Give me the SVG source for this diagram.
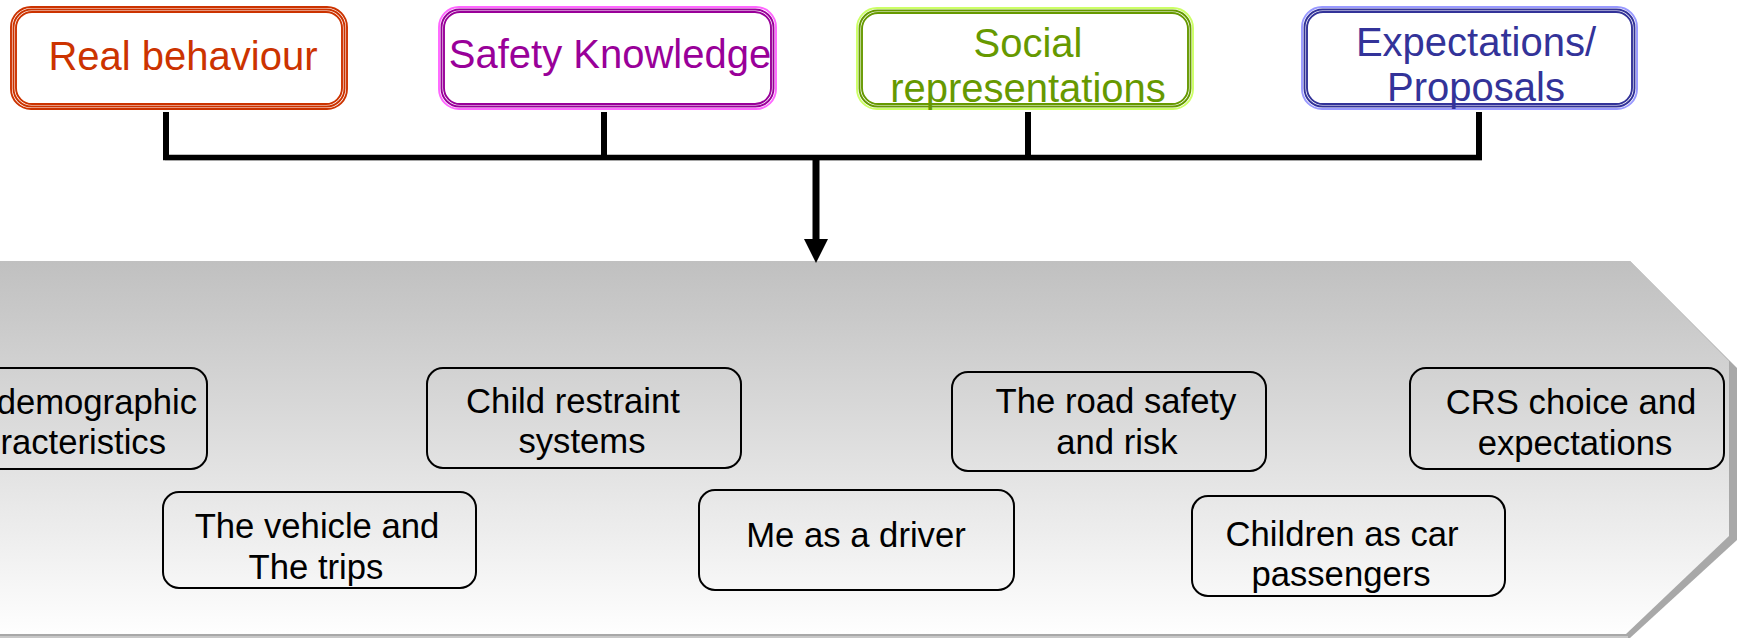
<svg xmlns="http://www.w3.org/2000/svg" width="1741" height="640" viewBox="0 0 1741 640">
<style>
  text { font-family: "Liberation Sans", Arial, sans-serif; }
  .top { font-size: 40px; text-anchor: middle; }
  .inner { font-size: 34.67px; fill: #000; text-anchor: middle; }
  .ibox { fill: none; stroke: #000; stroke-width: 2; }
  .b { fill: none; stroke-width: 1.9; }
  .conn { stroke: #000; fill: none; }
</style>
<defs>
  <linearGradient id="band" x1="0" y1="261" x2="0" y2="638" gradientUnits="userSpaceOnUse">
    <stop offset="0" stop-color="#C0C0C0"/>
    <stop offset="0.45" stop-color="#DCDCDC"/>
    <stop offset="1" stop-color="#FFFFFF"/>
  </linearGradient>
</defs>
<rect width="1741" height="640" fill="#FFFFFF"/>

<g id="band-shape">
  <polygon points="0,261 1630,261 1737,368 1737,540 1630,638 0,638" fill="#A8A8A8"/>
  <polygon points="0,261 1630,261 1729,361 1729,536 1626,634 0,634" fill="url(#band)"/>
  <line x1="0" y1="637" x2="1628" y2="637" stroke="#C8C8C8" stroke-width="2"/>
</g>

<g id="connectors">
  <line class="conn" x1="166" y1="112" x2="166" y2="157.5" stroke-width="6"/>
  <line class="conn" x1="604" y1="112" x2="604" y2="157.5" stroke-width="6"/>
  <line class="conn" x1="1028" y1="112" x2="1028" y2="157.5" stroke-width="6"/>
  <line class="conn" x1="1479" y1="112" x2="1479" y2="157.5" stroke-width="6"/>
  <line x1="165" y1="159.5" x2="1482" y2="159.5" stroke="#BBBBBB" stroke-width="2"/>
  <line class="conn" x1="163" y1="157.5" x2="1482" y2="157.5" stroke-width="5.5"/>
  <line class="conn" x1="816" y1="157" x2="816" y2="241" stroke-width="7"/>
  <polygon points="804,239 828,239 816,263" fill="#000"/>
</g>

<g id="node-real-behaviour">
  <rect class="b" x="11" y="7" width="336" height="102" rx="20" stroke="#CC3300"/>
  <rect class="b" x="13.5" y="9.5" width="331" height="97" rx="18" stroke="#CC3300"/>
  <rect class="b" x="16" y="12" width="326" height="92" rx="16" stroke="#CC3300"/>
  <text class="top" x="183" y="70" fill="#CC3300">Real behaviour</text>
</g>

<g id="node-safety-knowledge">
  <rect class="b" x="439" y="7" width="337" height="102" rx="20" stroke="#FF66FF"/>
  <rect class="b" x="441.5" y="9.5" width="332" height="97" rx="18" stroke="#990099"/>
  <rect class="b" x="444" y="12" width="327" height="92" rx="16" stroke="#990099"/>
  <text class="top" x="610" y="68" fill="#990099">Safety Knowledge</text>
</g>

<g id="node-social-representations">
  <rect class="b" x="857" y="8" width="336" height="101" rx="20" stroke="#CCFF66"/>
  <rect class="b" x="859.5" y="10.5" width="331" height="96" rx="18" stroke="#669900"/>
  <rect class="b" x="862" y="13" width="326" height="91" rx="16" stroke="#669900"/>
  <text class="top" x="1028" y="57" fill="#669900">Social</text>
  <text class="top" x="1028" y="102" fill="#669900">representations</text>
</g>

<g id="node-expectations-proposals">
  <rect class="b" x="1302" y="7" width="335" height="102" rx="20" stroke="#9999FF"/>
  <rect class="b" x="1304.5" y="9.5" width="330" height="97" rx="18" stroke="#333399"/>
  <rect class="b" x="1307" y="12" width="325" height="92" rx="16" stroke="#333399"/>
  <text class="top" x="1476" y="56" fill="#333399">Expectations/</text>
  <text class="top" x="1476" y="101" fill="#333399">Proposals</text>
</g>

<g id="node-sociodemographic">
  <rect class="ibox" x="-30" y="368" width="237" height="101" rx="16"/>
  <text class="inner" x="197" y="414" style="text-anchor:end">demographic</text>
  <text class="inner" x="166" y="454" style="text-anchor:end">racteristics</text>
</g>

<g id="node-child-restraint">
  <rect class="ibox" x="427" y="368" width="314" height="100" rx="16"/>
  <text class="inner" x="573" y="413">Child restraint</text>
  <text class="inner" x="582" y="453">systems</text>
</g>

<g id="node-vehicle-trips">
  <rect class="ibox" x="163" y="492" width="313" height="96" rx="16"/>
  <text class="inner" x="317" y="538">The vehicle and</text>
  <text class="inner" x="316" y="579">The trips</text>
</g>

<g id="node-me-driver">
  <rect class="ibox" x="699" y="490" width="315" height="100" rx="16"/>
  <text class="inner" x="856" y="547">Me as a driver</text>
</g>

<g id="node-road-safety">
  <rect class="ibox" x="952" y="372" width="314" height="99" rx="16"/>
  <text class="inner" x="1116" y="413">The road safety</text>
  <text class="inner" x="1117" y="454">and risk</text>
</g>

<g id="node-children-passengers">
  <rect class="ibox" x="1192" y="496" width="313" height="100" rx="16"/>
  <text class="inner" x="1342" y="546">Children as car</text>
  <text class="inner" x="1341" y="586">passengers</text>
</g>

<g id="node-crs-choice">
  <rect class="ibox" x="1410" y="368" width="314" height="101" rx="16"/>
  <text class="inner" x="1571" y="414">CRS choice and</text>
  <text class="inner" x="1575" y="455">expectations</text>
</g>
</svg>
